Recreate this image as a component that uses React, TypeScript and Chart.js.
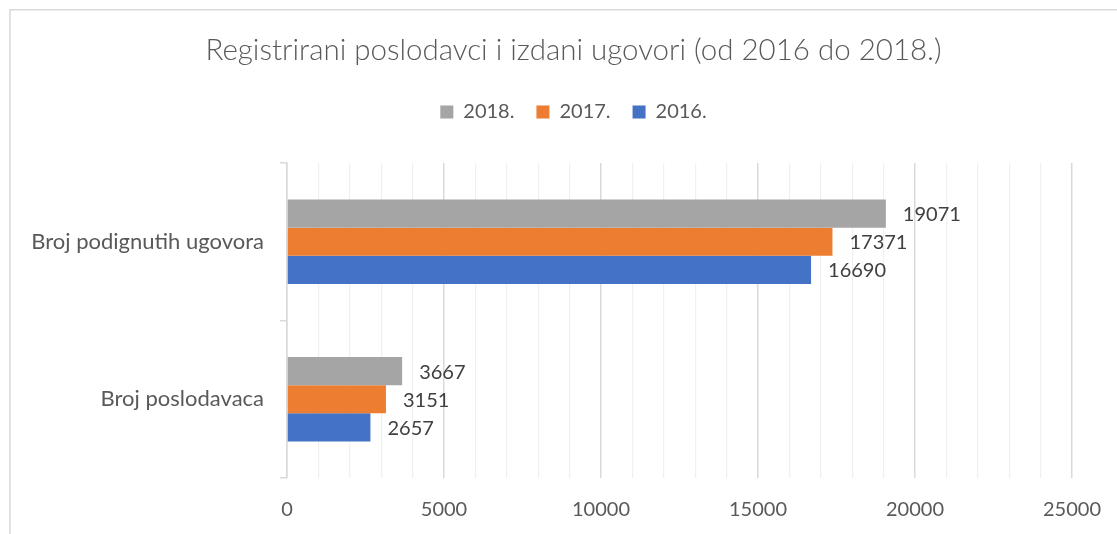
import React, { useEffect, useRef } from 'react';
import { Chart, registerables } from 'chart.js';

Chart.register(...registerables);

const categories = ['Broj podignutih ugovora', 'Broj poslodavaca'];
const seriesLabels = ['2018.', '2017.', '2016.'];
const values2018 = [19071, 3667];
const values2017 = [17371, 3151];
const values2016 = [16690, 2657];
const seriesColors = ['#a5a5a5', '#ed7d31', '#4472c4'];
const titleText = 'Registrirani poslodavci i izdani ugovori (od 2016 do 2018.)';
const xMax = 25000;
const xMajorStep = 5000;
const xMinorStep = 1000;

const FONT = 'Lato';
const PAD_RIGHT = 45;
const TITLE_PAD_TOP = 33;
const TITLE_SIZE = 29.5;
const TITLE_PAD_BOTTOM = 11.6;
const PLOT_TOP = 163;
const HEADER_SHIFT_X = 37.5;

const borderPlugin = {
  id: 'frameBorder',
  beforeDraw(chart: any) {
    const ctx = chart.ctx;
    ctx.save();
    ctx.fillStyle = '#ffffff';
    ctx.fillRect(0, 0, chart.width, chart.height);
    ctx.strokeStyle = '#d9d9d9';
    ctx.lineWidth = 1.5;
    ctx.beginPath();
    ctx.moveTo(10, chart.height);
    ctx.lineTo(10, 9.75);
    ctx.lineTo(chart.width, 9.75);
    ctx.stroke();
    ctx.restore();
  },
};

const headerPlugin = {
  id: 'headerPlacement',
  afterInit(chart: any) {
    const legend = chart.legend;
    if (!legend) return;
    const origFit = legend.fit.bind(legend);
    legend.fit = function () {
      origFit();
      const titleH = TITLE_PAD_TOP + TITLE_SIZE * 1.2 + TITLE_PAD_BOTTOM;
      this.height = PLOT_TOP - titleH;
    };
  },
  afterLayout(chart: any) {
    [chart.titleBlock, chart.legend].forEach((b: any) => {
      if (!b) return;
      b.left += HEADER_SHIFT_X;
      b.right += HEADER_SHIFT_X;
    });
  },
};

const dataLabelPlugin = {
  id: 'barValueLabels',
  afterDatasetsDraw(chart: any) {
    const ctx = chart.ctx;
    ctx.save();
    ctx.font = `20px ${FONT}`;
    ctx.fillStyle = '#404040';
    ctx.textAlign = 'left';
    ctx.textBaseline = 'middle';
    chart.data.datasets.forEach((ds: any, i: number) => {
      const meta = chart.getDatasetMeta(i);
      meta.data.forEach((el: any, j: number) => {
        ctx.fillText(String(ds.data[j]), el.x + 17, el.y + 1);
      });
    });
    ctx.restore();
  },
};

export default function App() {
  const ref = useRef<HTMLCanvasElement | null>(null);
  useEffect(() => {
    if (!ref.current) return;
    const chart = new Chart(ref.current, {
      type: 'bar',
      data: {
        labels: categories,
        datasets: [
          { label: seriesLabels[0], data: values2018, backgroundColor: seriesColors[0] },
          { label: seriesLabels[1], data: values2017, backgroundColor: seriesColors[1] },
          { label: seriesLabels[2], data: values2016, backgroundColor: seriesColors[2] },
        ],
      },
      options: {
        indexAxis: 'y',
        animation: false,
        responsive: false,
        maintainAspectRatio: false,
        datasets: { bar: { categoryPercentage: 0.535, barPercentage: 1.0 } },
        layout: { padding: { left: 0, right: PAD_RIGHT, top: 0, bottom: 0 } },
        plugins: {
          title: {
            display: true,
            text: titleText,
            color: '#595959',
            font: { family: FONT, size: TITLE_SIZE, weight: '300' as any },
            padding: { top: TITLE_PAD_TOP, bottom: TITLE_PAD_BOTTOM },
          },
          legend: {
            display: true,
            position: 'top',
            labels: {
              boxWidth: 13,
              boxHeight: 13,
              color: '#595959',
              font: { family: FONT, size: 20 },
              padding: 22,
            },
          },
          tooltip: { enabled: false },
        },
        scales: {
          x: {
            type: 'linear',
            min: 0,
            max: xMax,
            afterFit(scale: any) {
              scale.height = 56;
              scale.paddingRight = 0;
              scale.paddingLeft = 0;
            },
            ticks: {
              stepSize: xMinorStep,
              autoSkip: false,
              maxRotation: 0,
              padding: 20,
              color: '#595959',
              font: { family: FONT, size: 20 },
              callback: (v: any) => (Number(v) % xMajorStep === 0 ? String(v) : ''),
            },
            grid: {
              drawTicks: false,
              color: (c: any) => (c.tick && c.tick.value % xMajorStep === 0 ? '#d9d9d9' : '#f0f0f0'),
              lineWidth: (c: any) => (c.tick && c.tick.value % xMajorStep === 0 ? 1.5 : 1.2),
            },
            border: { display: false },
          },
          y: {
            type: 'category',
            afterFit(scale: any) {
              scale.width = 287;
            },
            ticks: {
              padding: 16,
              color: '#595959',
              font: { family: FONT, size: 22 },
            },
            grid: {
              display: true,
              offset: true,
              drawOnChartArea: false,
              tickLength: 7,
              color: '#d9d9d9',
              lineWidth: 1.5,
            },
            border: { display: true, color: '#d9d9d9', width: 1.5 },
          },
        },
      },
      plugins: [borderPlugin, headerPlugin, dataLabelPlugin],
    });
    return () => chart.destroy();
  }, []);
  return (
    <div style={{ position: 'fixed', left: 0, top: 0, width: 1117, height: 534 }}>
      <canvas ref={ref} width={1117} height={534} style={{ display: 'block' }} />
    </div>
  );
}
